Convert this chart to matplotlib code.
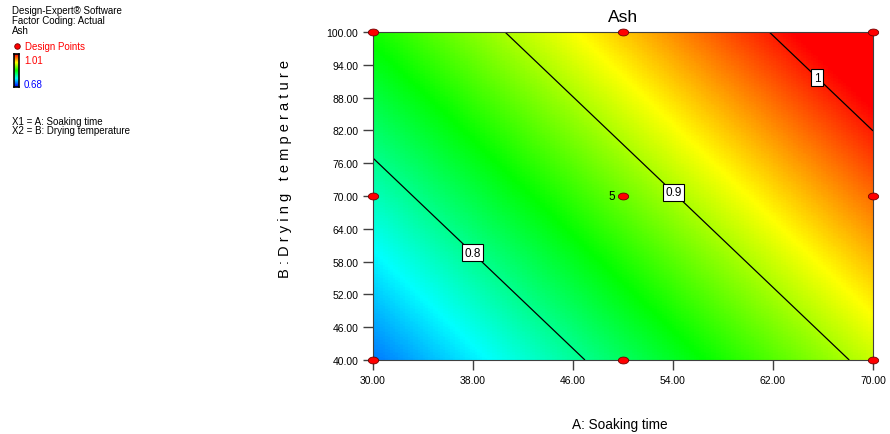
import numpy as np
import matplotlib.pyplot as plt
from matplotlib.colors import LinearSegmentedColormap
from matplotlib.lines import Line2D
from matplotlib.path import Path

plt.rcParams['font.family'] = ['Liberation Sans', 'DejaVu Sans']

# fitted linear model for Ash (actual factors)
ash_at_origin = 0.7198      # A=30, B=40
coef_soak = 0.00473         # per unit A
coef_dry = 0.002171         # per unit B
ash_min, ash_max = 0.68, 1.01

soak_range = [30, 70]
dry_range = [40, 100]
design_soak = [30, 30, 30, 50, 50, 50, 70, 70, 70]
design_dry = [40, 70, 100, 40, 70, 100, 40, 70, 100]
contour_levels = [0.8, 0.9, 1.0]
label_pos = [(38.0, 59.8), (54.3, 71.3), (65.8, 92.3)]
xticks = [30, 38, 46, 54, 62, 70]
yticks = [40, 46, 52, 58, 64, 70, 76, 82, 88, 94, 100]

cmap = LinearSegmentedColormap.from_list(
    "de", [(0, "#0000ff"), (0.25, "#00ffff"), (0.5, "#00ff00"),
           (0.75, "#ffff00"), (1.0, "#ff0000")])

A = np.linspace(soak_range[0], soak_range[1], 201)
B = np.linspace(dry_range[0], dry_range[1], 201)
AA, BB = np.meshgrid(A, B)
Z = ash_at_origin + coef_soak * (AA - 30) + coef_dry * (BB - 40)

fig = plt.figure(figsize=(8.9, 4.35), dpi=100)
ax = fig.add_axes([373/890, 1-361/435, 500/890, 328/435])
ax.imshow(Z, origin="lower", extent=[30, 70, 40, 100], aspect="auto",
          cmap=cmap, vmin=ash_min, vmax=ash_max, interpolation="nearest")
cs = ax.contour(AA, BB, Z, levels=contour_levels, colors="black", linewidths=0.9)
lbls = ax.clabel(cs, fmt={0.8: "0.8", 0.9: "0.9", 1.0: "1"}, manual=label_pos,
                 fontsize=8.5, inline=False)
for t in lbls:
    t.set_rotation(0)
    t.set_zorder(6)
    t.set_bbox(dict(boxstyle="square,pad=0.2", fc="white", ec="black", lw=0.8))

th = np.linspace(0, 2*np.pi, 40)
ell = Path(np.column_stack([1.5*np.cos(th), np.sin(th)]), closed=True)
ax.scatter(design_soak, design_dry, marker=ell, s=55, c="red",
           edgecolors="#700000", linewidths=0.6, zorder=5, clip_on=False)
ax.text(49.4, 70, "5", ha="right", va="center", fontsize=8.5)

ax.set_xlim(*soak_range)
ax.set_ylim(*dry_range)
ax.set_xticks(xticks)
ax.set_yticks(yticks)
ax.set_xticklabels([f"{v:.2f}" for v in xticks])
ax.set_yticklabels([f"{v:.2f}" for v in yticks])
ax.tick_params(direction="out", length=7, width=1, labelsize=7.5, color="#404040")
for s in ax.spines.values():
    s.set_color("#404040")
ax.set_title("Ash", fontsize=12.5, pad=8)
fig.text(620/890, 1-425/435, "A: Soaking time", ha="center", va="center", fontsize=9.8)
fig.text(285/890, 1-169/435, "B : D r y i n g   t e m p e r a t u r e", rotation=90,
         ha="center", va="center", fontsize=10.5)

# legend block at top left
fs = 7
fig.text(12/890, 1-11/435, "Design-Expert\u00ae Software", fontsize=fs, va="center")
fig.text(12/890, 1-21/435, "Factor Coding: Actual", fontsize=fs, va="center")
fig.text(12/890, 1-31/435, "Ash", fontsize=fs, va="center")
fig.text(25/890, 1-47/435, "Design Points", fontsize=fs, va="center", color="red")
fig.add_artist(Line2D([17/890], [1-47/435], transform=fig.transFigure, marker="o",
                      ms=4, mfc="red", mec="#700000", mew=0.6, ls="none"))
cax = fig.add_axes([14/890, 1-88/435, 5/890, 33/435])
cax.imshow(np.linspace(0, 1, 50)[:, None], origin="lower", aspect="auto", cmap=cmap)
cax.set_xticks([])
cax.set_yticks([])
for s in cax.spines.values():
    s.set_linewidth(1.2)
fig.text(24/890, 1-61/435, "1.01", fontsize=fs, va="center", color="red")
fig.text(24/890, 1-85/435, "0.68", fontsize=fs, va="center", color="blue")
fig.text(12/890, 1-122/435, "X1 = A: Soaking time", fontsize=fs, va="center")
fig.text(12/890, 1-131/435, "X2 = B: Drying temperature", fontsize=fs, va="center")

fig.savefig("out.png", dpi=100)
